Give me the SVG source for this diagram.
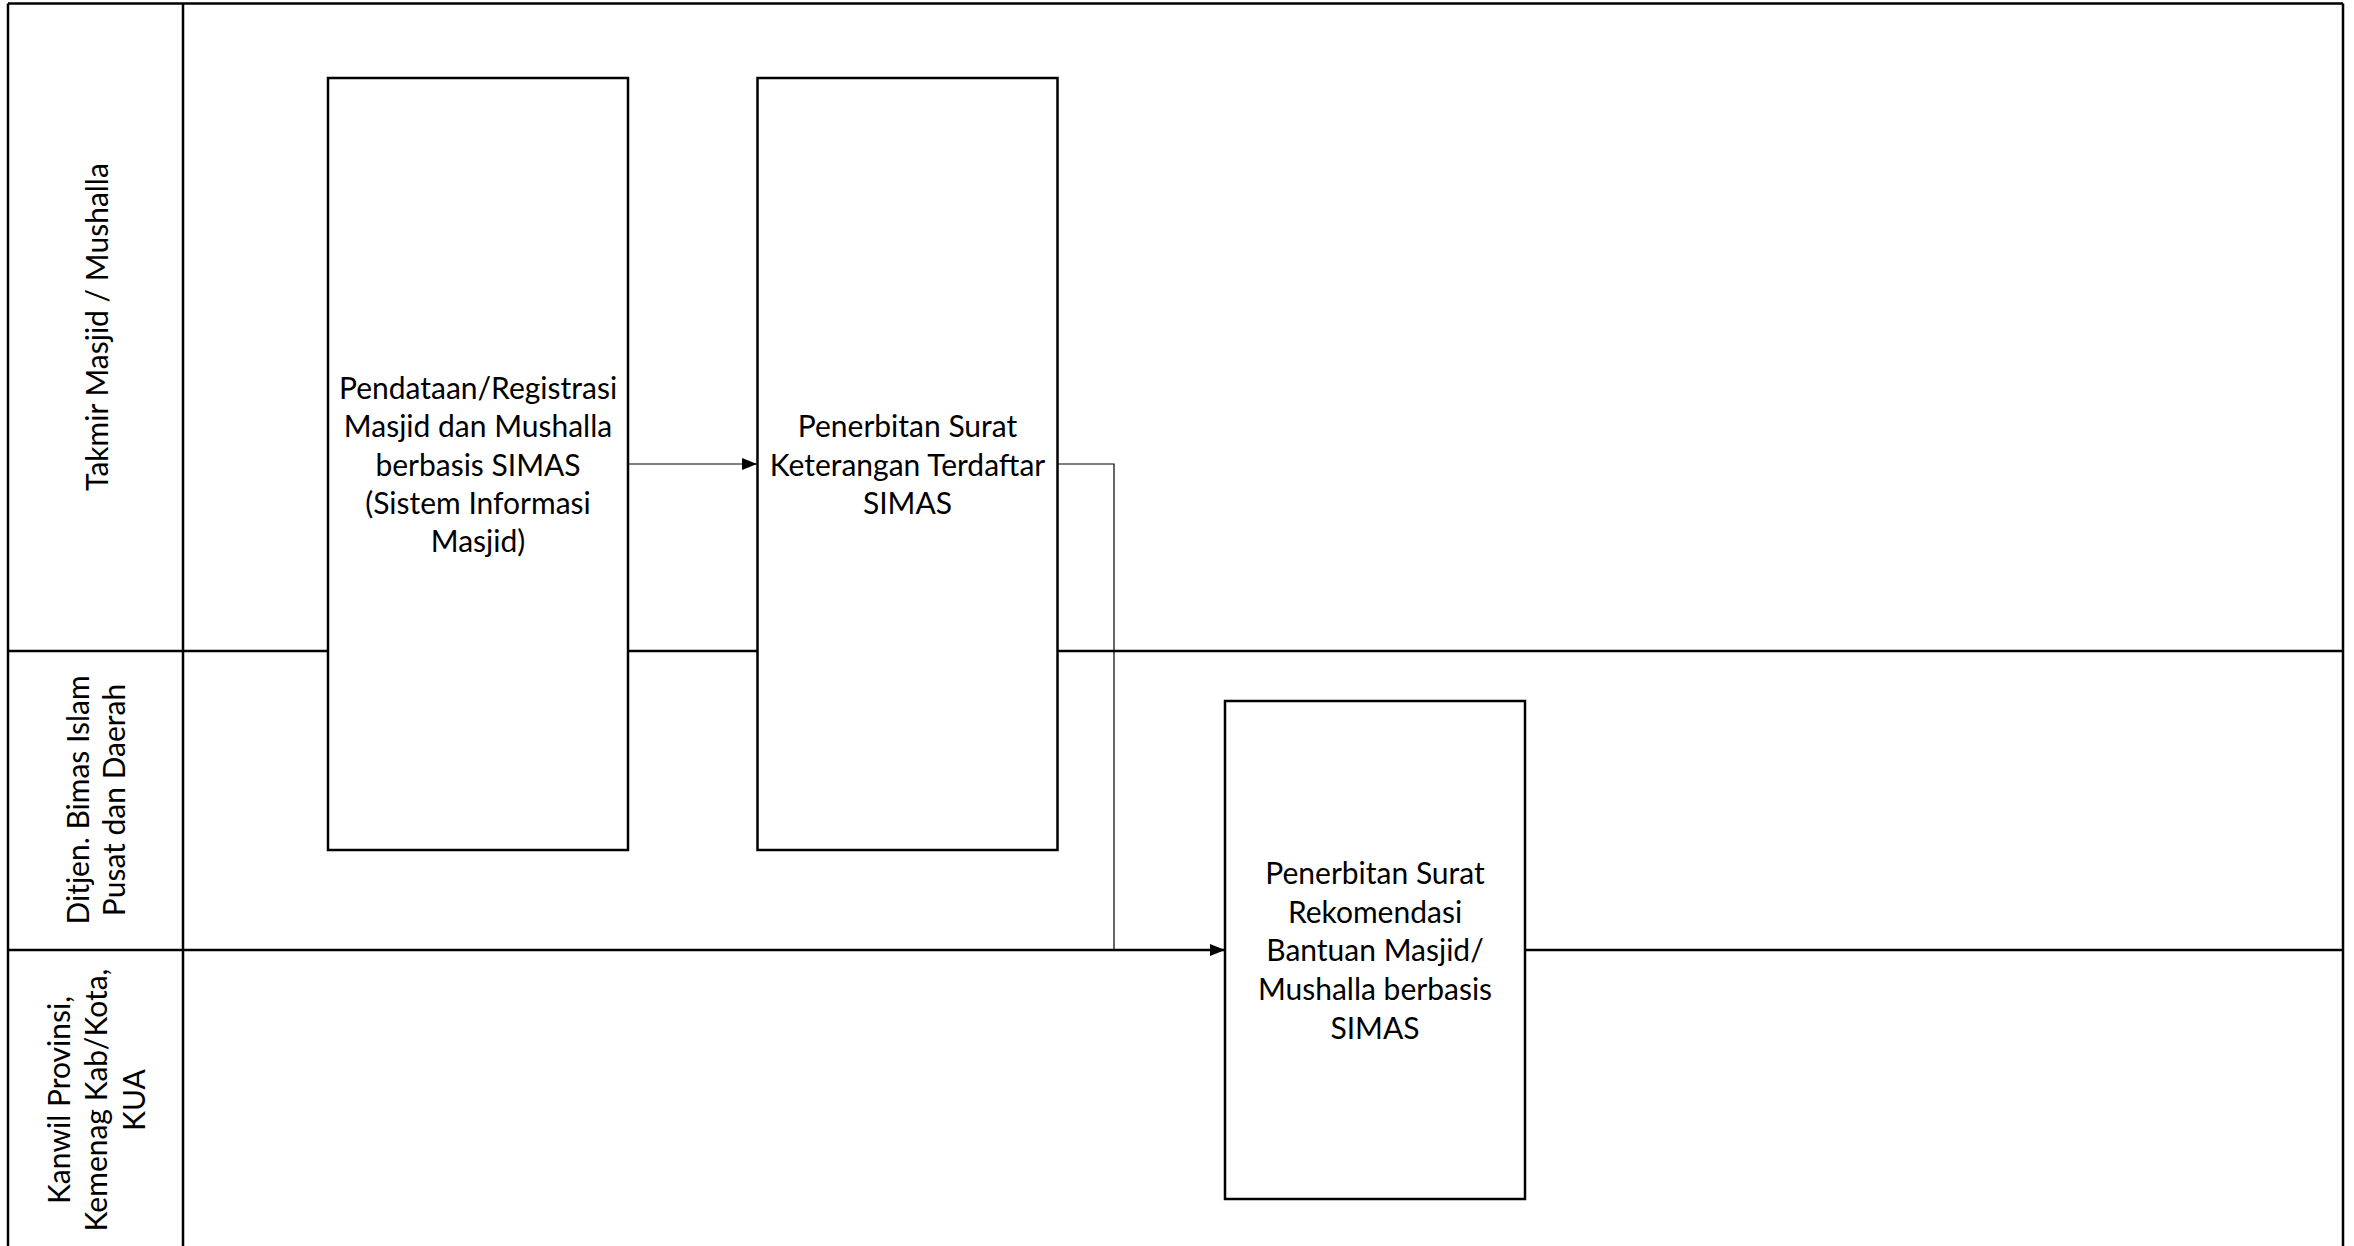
<svg xmlns="http://www.w3.org/2000/svg" width="2354" height="1246" viewBox="0 0 2354 1246">
<defs>
<style>
.lane{stroke:#000;stroke-width:2.5;fill:none}
.box{fill:#fff;stroke:#000;stroke-width:2.5}
.conn{stroke:#000;stroke-width:1.2;fill:none}
.t{font-family:Lato,"Open Sans","Liberation Sans",sans-serif;font-size:30px;fill:#000;text-anchor:middle;dominant-baseline:central}
</style>
<marker id="arr" markerWidth="16" markerHeight="12" refX="15" refY="6" orient="auto" markerUnits="userSpaceOnUse">
<path d="M0,0 L15,6 L0,12 Z" fill="#000"/>
</marker>
</defs>
<rect width="2354" height="1246" fill="#fff"/>
<g id="pool">
<line class="lane" x1="8" y1="3.5" x2="2343" y2="3.5"/>
<line class="lane" x1="8" y1="3.5" x2="8" y2="1246"/>
<line class="lane" x1="183" y1="3.5" x2="183" y2="1246"/>
<line class="lane" x1="2343" y1="3.5" x2="2343" y2="1246"/>
<line class="lane" x1="8" y1="651" x2="2343" y2="651"/>
<line class="lane" x1="8" y1="950" x2="2343" y2="950"/>
</g>
<g id="lane-labels">
<text class="t" transform="translate(96,327) rotate(-90)">Takmir Masjid / Mushalla</text>
<text class="t" transform="translate(77,800) rotate(-90)">Ditjen. Bimas Islam</text>
<text class="t" transform="translate(113,800) rotate(-90)">Pusat dan Daerah</text>
<text class="t" transform="translate(58,1100) rotate(-90)">Kanwil Provinsi,</text>
<text class="t" transform="translate(95,1100) rotate(-90)">Kemenag Kab/Kota,</text>
<text class="t" transform="translate(133,1100) rotate(-90)">KUA</text>
</g>
<g id="connectors">
<line class="conn" x1="628" y1="464" x2="757" y2="464" marker-end="url(#arr)"/>
<polyline class="conn" points="1058,464 1114,464 1114,950 1225,950" marker-end="url(#arr)"/>
</g>
<g id="node1">
<rect class="box" x="328" y="78" width="300" height="772"/>
<text class="t"><tspan x="478" y="387">Pendataan/Registrasi</tspan><tspan x="478" y="425">Masjid dan Mushalla</tspan><tspan x="478" y="464">berbasis SIMAS</tspan><tspan x="478" y="502">(Sistem Informasi</tspan><tspan x="478" y="540">Masjid)</tspan></text>
</g>
<g id="node2">
<rect class="box" x="757.5" y="78" width="300" height="772"/>
<text class="t"><tspan x="907.5" y="425">Penerbitan Surat</tspan><tspan x="907.5" y="464">Keterangan Terdaftar</tspan><tspan x="907.5" y="502">SIMAS</tspan></text>
</g>
<g id="node3">
<rect class="box" x="1225" y="701" width="300" height="498"/>
<text class="t"><tspan x="1375" y="872">Penerbitan Surat</tspan><tspan x="1375" y="911">Rekomendasi</tspan><tspan x="1375" y="949">Bantuan Masjid/</tspan><tspan x="1375" y="988">Mushalla berbasis</tspan><tspan x="1375" y="1027">SIMAS</tspan></text>
</g>
</svg>
